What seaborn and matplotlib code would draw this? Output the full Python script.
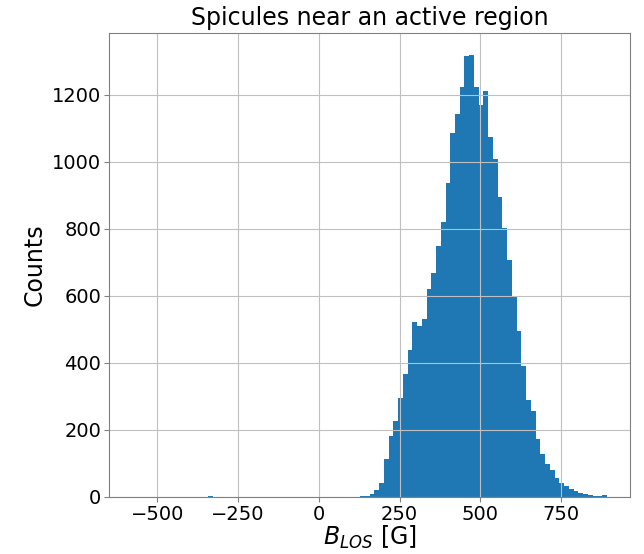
import numpy as np
import pandas as pd
import matplotlib
matplotlib.use('Agg')
import matplotlib.pyplot as plt
import seaborn as sns

# histogram: 100 equal bins between b_min and b_max
b_min = -577.0
b_max = 892.0
counts = [1, 0, 0, 0, 0, 0, 0, 0, 0, 0,
          0, 0, 0, 0, 0, 0, 3, 1, 0, 1,
          1, 0, 0, 0, 0, 0, 0, 0, 0, 0,
          0, 0, 0, 0, 0, 0, 0, 0, 0, 0,
          0, 0, 0, 0, 0, 0, 1, 1, 2, 4,
          9, 21, 43, 114, 183, 227, 294, 368, 440, 521,
          509, 532, 621, 669, 749, 822, 936, 1086, 1142, 1223,
          1315, 1318, 1222, 1170, 1213, 1075, 1010, 894, 803, 707,
          599, 495, 390, 289, 257, 173, 129, 97, 79, 56,
          42, 33, 24, 17, 11, 8, 5, 3, 3, 6]

n_bins = len(counts)
width = (b_max - b_min) / n_bins
centers = b_min + width * (np.arange(n_bins) + 0.5)
hist_df = pd.DataFrame({'B': centers, 'n': counts})

fig, ax = plt.subplots(figsize=(6.44, 5.54), dpi=100)
sns.histplot(data=hist_df, x='B', weights='n', bins=n_bins, binrange=(b_min, b_max),
             color='#1f77b4', alpha=1, edgecolor='none', linewidth=0, ax=ax)

ax.grid(True, color='#c0c0c0', linewidth=0.8)
for s in ax.spines.values():
    s.set_color('#808080')
ax.tick_params(colors='#808080', labelcolor='black', labelsize=14, pad=2)

ax.set_title('Spicules near an active region', fontsize=17)
ax.set_xlabel('$B_{LOS}$ [G]', fontsize=17, labelpad=0)
ax.set_ylabel('Counts', fontsize=17)

plt.subplots_adjust(left=0.169, right=0.979, top=0.940, bottom=0.103)
plt.savefig('out.png', dpi=100)
